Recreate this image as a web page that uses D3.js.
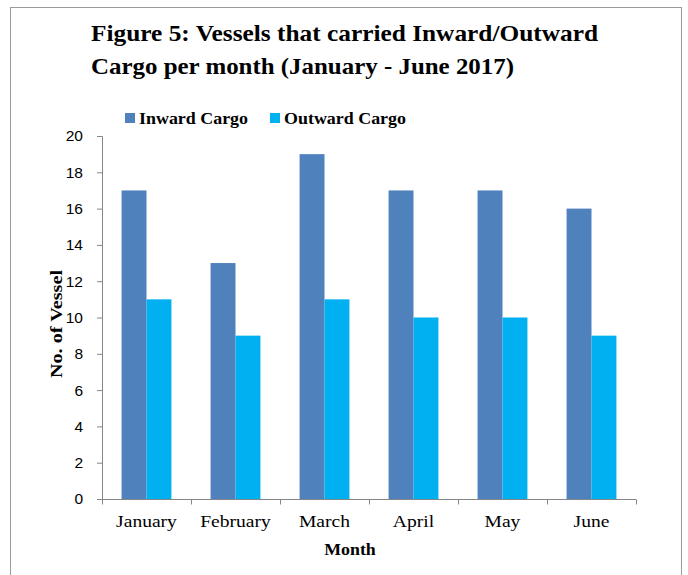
<!DOCTYPE html>
<html>
<head>
<meta charset="utf-8">
<script src="https://cdn.jsdelivr.net/npm/d3@7"></script>
<style>
  body { margin: 0; background: #fff; }
  svg { display: block; }
</style>
</head>
<body>
<div id="chart"></div>
<script>
// data
var months = ["January", "February", "March", "April", "May", "June"];
var series = ["Inward Cargo", "Outward Cargo"];
var inward = [17, 13, 19, 17, 17, 16];
var outward = [11, 9, 11, 10, 10, 9];
var yTicks = [0, 2, 4, 6, 8, 10, 12, 14, 16, 18, 20];
var colors = ["#4F81BD", "#00B0F0"];

var W = 688, H = 575;
// plot area (note: "top" is reserved on window, so use plot* names)
var plotL = 102, plotR = 636, plotT = 136, plotB = 499;
var serif = "Liberation Serif, DejaVu Serif, serif";

// widen serif text a bit, the original font (Cambria) runs wider than Times
function widen(sel, f) {
  sel.each(function () {
    var len = this.getComputedTextLength();
    d3.select(this).attr("textLength", len * f).attr("lengthAdjust", "spacingAndGlyphs");
  });
}

var svg = d3.select("#chart").append("svg")
    .attr("width", W).attr("height", H);

// outer frame
svg.append("rect")
    .attr("x", 10.5).attr("y", 7.5)
    .attr("width", 671).attr("height", 600)
    .attr("fill", "none").attr("stroke", "#9a9a9a").attr("stroke-width", 1);

// title
var title = svg.append("text")
    .attr("font-family", serif)
    .attr("font-weight", "bold").attr("font-size", 23).attr("fill", "#000");
title.append("tspan").attr("x", 91).attr("y", 41)
    .attr("textLength", 507).attr("lengthAdjust", "spacingAndGlyphs")
    .text("Figure 5: Vessels that carried Inward/Outward");
title.append("tspan").attr("x", 91).attr("y", 74)
    .attr("textLength", 423).attr("lengthAdjust", "spacingAndGlyphs")
    .text("Cargo per month (January - June 2017)");

var x0 = d3.scaleBand().domain(months).range([plotL, plotR]).padding(0);
var x1 = d3.scaleBand().domain(series)
    .range([x0.bandwidth() * 0.22, x0.bandwidth() * 0.78]);
var y = d3.scaleLinear().domain([0, 20]).range([plotB, plotT]);

var rows = months.map(function (m, i) {
  return { month: m, values: [inward[i], outward[i]] };
});

// bars
var g = svg.append("g").selectAll("g").data(rows).join("g")
    .attr("transform", function (d) { return "translate(" + x0(d.month) + ",0)"; });
g.selectAll("rect").data(function (d) {
    return series.map(function (s, k) { return { s: s, v: d.values[k], k: k }; });
  })
  .join("rect")
    .attr("x", function (d) { return x1(d.s); })
    .attr("y", function (d) { return y(d.v); })
    .attr("width", x1.bandwidth())
    .attr("height", function (d) { return plotB - y(d.v); })
    .attr("fill", function (d) { return colors[d.k]; });

// y axis
var yAxis = svg.append("g")
    .attr("transform", "translate(" + plotL + ",0)")
    .call(d3.axisLeft(y).tickValues(yTicks).tickSize(5).tickPadding(14));
yAxis.select(".domain").attr("stroke", "#868686");
yAxis.selectAll(".tick line").attr("stroke", "#868686");
yAxis.selectAll(".tick text")
    .attr("font-family", "Liberation Sans, Arial, sans-serif")
    .attr("font-size", 15.5).attr("fill", "#000");

// x axis with ticks at category boundaries
var xAxis = svg.append("g")
    .attr("transform", "translate(0," + (plotB + 0.5) + ")");
xAxis.append("line")
    .attr("x1", plotL).attr("x2", plotR)
    .attr("stroke", "#868686");
xAxis.selectAll("line.tk").data(months.concat(["end"])).join("line")
    .attr("class", "tk")
    .attr("x1", function (d, i) { return plotL + i * x0.bandwidth() + 0.5; })
    .attr("x2", function (d, i) { return plotL + i * x0.bandwidth() + 0.5; })
    .attr("y1", 0).attr("y2", 5)
    .attr("stroke", "#868686");
xAxis.selectAll("text").data(months).join("text")
    .attr("x", function (d) { return x0(d) + x0.bandwidth() / 2; })
    .attr("y", 27)
    .attr("text-anchor", "middle")
    .attr("font-family", serif)
    .attr("font-size", 17).attr("fill", "#000")
    .text(function (d) { return d; })
    .call(widen, 1.15);

// axis titles
svg.append("text")
    .attr("x", 350).attr("y", 555)
    .attr("text-anchor", "middle")
    .attr("font-family", serif)
    .attr("font-weight", "bold").attr("font-size", 17)
    .text("Month")
    .call(widen, 1.05);
svg.append("text")
    .attr("transform", "translate(62,324) rotate(-90)")
    .attr("text-anchor", "middle")
    .attr("font-family", serif)
    .attr("font-weight", "bold").attr("font-size", 17)
    .attr("textLength", 108).attr("lengthAdjust", "spacingAndGlyphs")
    .text("No. of Vessel");

// legend
var legX = [125, 270];
var legLen = [109, 122];
var leg = svg.append("g").selectAll("g").data(series).join("g")
    .attr("transform", function (d, i) { return "translate(" + legX[i] + ",113)"; });
leg.append("rect")
    .attr("width", 10).attr("height", 10)
    .attr("fill", function (d, i) { return colors[i]; });
leg.append("text")
    .attr("x", 14).attr("y", 11)
    .attr("font-family", serif)
    .attr("font-weight", "bold").attr("font-size", 17)
    .attr("textLength", function (d, i) { return legLen[i]; })
    .attr("lengthAdjust", "spacingAndGlyphs")
    .text(function (d) { return d; });
</script>
</body>
</html>
